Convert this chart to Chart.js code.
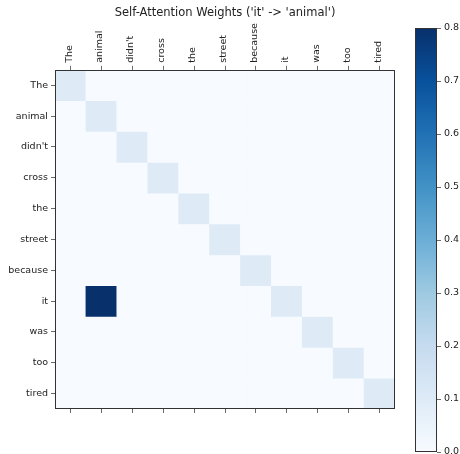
<!DOCTYPE html>
<html>
<head>
<meta charset="utf-8">
<script src="https://cdn.jsdelivr.net/npm/chart.js@4/dist/chart.umd.min.js"></script>
<style>
  html, body { margin:0; padding:0; background:#fff; overflow:hidden; }
  #wrap { position:relative; width:460px; height:454px; overflow:hidden; }
  #heat { position:absolute; left:0; top:0; }
  #cbar { position:absolute; left:405px; top:0; }
</style>
</head>
<body>
<div id="wrap">
  <canvas id="heat" width="405" height="454"></canvas>
  <canvas id="cbar" width="55" height="462"></canvas>
</div>
<script>
const tokens = ['The','animal',"didn't",'cross','the','street','because','it','was','too','tired'];
// rows = query token, cols = key token
const weights = [
  [0.1,0,0,0,0,0,0,0,0,0,0],
  [0,0.1,0,0,0,0,0,0,0,0,0],
  [0,0,0.1,0,0,0,0,0,0,0,0],
  [0,0,0,0.1,0,0,0,0,0,0,0],
  [0,0,0,0,0.1,0,0,0,0,0,0],
  [0,0,0,0,0,0.1,0,0,0,0,0],
  [0,0,0,0,0,0,0.1,0,0,0,0],
  [0,0.8,0,0,0,0,0,0.1,0,0,0],
  [0,0,0,0,0,0,0,0,0.1,0,0],
  [0,0,0,0,0,0,0,0,0,0.1,0],
  [0,0,0,0,0,0,0,0,0,0,0.1]
];
const vmin = 0, vmax = 0.8;
const cbarTicks = [0,0.1,0.2,0.3,0.4,0.5,0.6,0.7,0.8];

// matplotlib "Blues"
const blues = [[247,251,255],[222,235,247],[198,219,239],[158,202,225],[107,174,214],[66,146,198],[33,113,181],[8,81,156],[8,48,107]];
function bluesAt(t){
  t = Math.max(0, Math.min(1, t));
  const p = t*(blues.length-1), i = Math.min(Math.floor(p), blues.length-2), f = p-i;
  const c = blues[i].map((v,k)=>Math.round(v + (blues[i+1][k]-v)*f));
  return `rgb(${c[0]},${c[1]},${c[2]})`;
}

const font = { family:'"DejaVu Sans", sans-serif', size:9.5 };
const ink = '#222';

// spines on all four sides
const frame = {
  id:'frame',
  afterDraw(chart){
    const a = chart.chartArea, c = chart.ctx;
    c.save(); c.strokeStyle = '#333'; c.lineWidth = 1;
    c.strokeRect(Math.round(a.left)+0.5, Math.round(a.top)+0.5, Math.round(a.right-a.left)-1, Math.round(a.bottom-a.top)-1);
    c.restore();
  }
};

const datasets = tokens.map((rowTok, r) => ({
  label: rowTok,
  data: tokens.map(() => [r, r+1]),
  backgroundColor: tokens.map((_, c) => bluesAt((weights[r][c]-vmin)/(vmax-vmin))),
  borderWidth: 0,
  barPercentage: 1,
  categoryPercentage: 1
}));

const tickGrid = { drawOnChartArea:false, drawTicks:true, tickLength:4, color:'#444', lineWidth:0.8, offset:false };

new Chart(document.getElementById('heat'), {
  type:'bar',
  data:{ labels:tokens, datasets },
  options:{
    responsive:false, animation:false,
    datasets:{ bar:{ grouped:false } },
    layout:{ padding:{ left:0, right:10, top:0, bottom:0 } },
    plugins:{
      legend:{ display:false }, tooltip:{ enabled:false },
      title:{ display:true, fullSize:false, text:"Self-Attention Weights ('it' -> 'animal')", color:ink,
        font:{ family:font.family, size:11.5, weight:'normal' }, padding:{ top:6, bottom:0 } }
    },
    scales:{
      x:{ type:'category', position:'top', offset:true,
        grid:tickGrid, border:{ display:false },
        ticks:{ font, color:ink, minRotation:90, maxRotation:90, padding:3, labelOffset:10, autoSkip:false },
        afterFit(s){ s.height = 50; } },
      x2:{ type:'category', position:'bottom', labels:tokens, offset:true,
        grid:tickGrid, border:{ display:false },
        ticks:{ font, callback:()=>'', autoSkip:false },
        afterFit(s){ s.height = 45; } },
      y:{ type:'linear', min:0, max:tokens.length, reverse:true,
        grid:tickGrid, border:{ display:false },
        afterBuildTicks(s){ s.ticks = tokens.map((t,i)=>({ value:i+0.5 })); },
        ticks:{ font, color:ink, padding:3, callback:(v)=>tokens[Math.floor(v)] },
        afterFit(s){ s.width = 55; } }
    }
  },
  plugins:[frame]
});

new Chart(document.getElementById('cbar'), {
  type:'bar',
  data:{ labels:[''], datasets:[{
    data:[[vmin, vmax]],
    barPercentage:1, categoryPercentage:1, borderWidth:0,
    backgroundColor(ctx){
      const a = ctx.chart.chartArea;
      if(!a) return blues[4];
      const g = ctx.chart.ctx.createLinearGradient(0, a.bottom, 0, a.top);
      blues.forEach((c,i)=>g.addColorStop(i/(blues.length-1), `rgb(${c[0]},${c[1]},${c[2]})`));
      return g;
    }
  }]},
  options:{
    responsive:false, animation:false,
    layout:{ padding:{ left:10, right:0, top:28, bottom:10 } },
    plugins:{ legend:{ display:false }, tooltip:{ enabled:false } },
    scales:{
      x:{ display:false },
      y:{ position:'right', min:vmin, max:vmax,
        grid:{ drawOnChartArea:false, drawTicks:true, tickLength:4, color:'#444', lineWidth:0.8 },
        border:{ display:false },
        afterBuildTicks(s){ s.ticks = cbarTicks.map(v=>({ value:v })); },
        ticks:{ font, color:ink, padding:3, callback:(v)=>v.toFixed(1) },
        afterFit(s){ s.width = 23; } }
    }
  },
  plugins:[frame]
});
</script>
</body>
</html>
